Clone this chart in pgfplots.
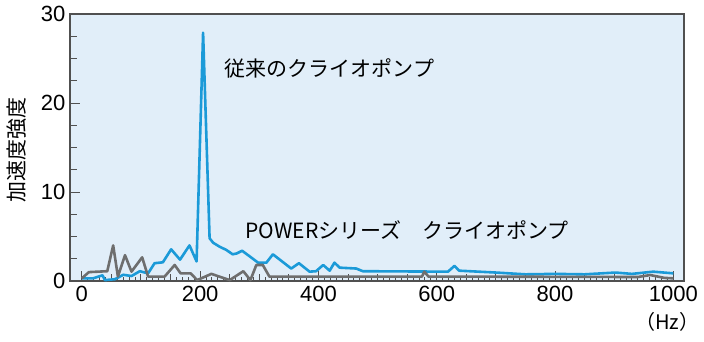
\documentclass[border=0pt]{standalone}
\usepackage{fontspec}
\setmainfont{Liberation Sans}
\newfontfamily\jp{Noto Sans CJK JP}
\usepackage{pgfplots}
\pgfplotsset{compat=1.18}

\definecolor{bgblue}{HTML}{E1EEF9}
\definecolor{oldpump}{HTML}{1B9AD8}
\definecolor{newpump}{HTML}{6E6E6E}
\definecolor{framegray}{HTML}{505050}

\begin{document}
\begin{tikzpicture}
\useasboundingbox (-70pt,-60pt) rectangle (634pt,281pt);
\begin{axis}[
  scale only axis,
  width=614pt, height=267pt,
  xmin=-20, xmax=1018,
  ymin=0, ymax=30,
  axis background/.style={fill=bgblue},
  axis line style={framegray, line width=1.4pt},
  xtick={0,200,...,1000},
  ytick={0,10,20,30},
  minor x tick num=19,
  extra x ticks={50,100,150,250,300,350,450,500,550,650,700,750,850,900,950},
  extra x tick labels={},
  extra x tick style={major tick length=7pt},
  extra y ticks={2.5,5,7.5,12.5,15,17.5,22.5,25,27.5},
  extra y tick labels={},
  extra y tick style={major tick length=7pt},
  xtick pos=left, ytick pos=left,
  tick align=inside,
  major tick length=10pt,
  minor tick length=4pt,
  every tick/.style={framegray, line width=1pt},
  tick label style={font=\fontsize{22}{24}\selectfont},
  /pgf/number format/assume math mode=true,
  /pgf/number format/1000 sep={},
  xticklabel style={yshift=-2pt},
  yticklabel style={xshift=-1pt},
  ylabel={\jp\fontsize{21}{24}\selectfont 加速度強度},
  ylabel style={at={(axis description cs:-0.087,0.49)}, anchor=center},
  clip=false,
]
% 従来のクライオポンプ
\addplot[oldpump, line width=2.6pt, line join=round] coordinates {
  (0,0.3) (19,0.3) (35,0.64) (39,0.1) (56,0.2) (70,0.7) (84,0.56)
  (98,1.1) (112,0.86) (123,2.0) (137,2.1) (151,3.56) (166,2.4)
  (182,4.0) (194,2.2) (205,27.9) (216,4.8) (222,4.3) (233,3.85)
  (244,3.5) (255,3.0) (262,3.1) (271,3.4) (298,2.06) (312,2.06)
  (323,3.0) (354,1.4) (367,2.0) (385,1.05) (396,1.1) (408,1.8)
  (419,1.16) (427,2.06) (436,1.5) (464,1.4) (475,1.1) (619,1.05)
  (630,1.7) (638,1.16) (700,0.95) (750,0.75) (800,0.8) (850,0.75)
  (902,0.95) (930,0.8) (966,1.05) (1000,0.86)
};
% POWERシリーズ
\addplot[newpump, line width=2.6pt, line join=round] coordinates {
  (0,0.3) (12,1.0) (43,1.1) (53,4.0) (61,0.5) (73,2.9) (84,1.05)
  (102,2.66) (112,0.5) (140,0.5) (157,1.8) (167,0.86) (184,0.86)
  (195,0.1) (219,0.8) (250,0.1) (273,1.1) (285,0.1) (295,1.8)
  (306,1.8) (317,0.5) (575,0.5) (579,1.05) (586,0.5) (940,0.45)
  (961,0.67) (985,0.35) (1000,0.3)
};
\node[anchor=west, font=\jp\fontsize{21}{24}\selectfont] at (axis cs:236,23.9) {従来のクライオポンプ};
\node[anchor=west, font=\jp\fontsize{21}{24}\selectfont] at (axis cs:271,5.7) {POWERシリーズ\hspace{1em}クライオポンプ};
\node[anchor=east, inner xsep=0pt, font=\jp\fontsize{20}{24}\selectfont] at (axis description cs:1.025,-0.155) {（Hz）};
\end{axis}
\end{tikzpicture}
\end{document}
